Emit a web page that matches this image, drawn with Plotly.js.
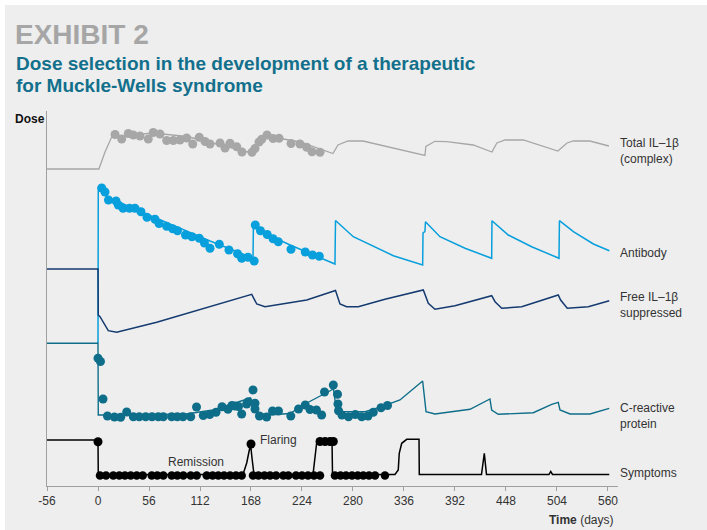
<!DOCTYPE html>
<html><head><meta charset="utf-8">
<script src="https://cdn.plot.ly/plotly-3.0.1.min.js"></script>
<style>
html,body{margin:0;padding:0;background:#fff;}
#chart{position:absolute;left:5px;top:5px;width:702px;height:525px;}
</style></head><body><div id="chart"></div>
<script>
// ---- data (arbitrary dose-level units) ----
const xTicks = [-56, 0, 56, 112, 168, 224, 280, 336, 392, 448, 504, 560];

const totalLineDay = [-56, 1, 7.7, 15, 60, 98, 164, 169, 178, 185, 222, 258, 263.5, 274.5, 291, 359, 360, 370, 383, 412, 432.6, 438, 447, 467, 505, 515, 522, 540, 561];
const totalLineVal = [317, 317, 334, 349, 353, 349.5, 334, 338, 347, 350, 344, 332.5, 341, 345, 345, 330.5, 339.5, 344.7, 344.3, 341, 334, 343, 346, 346, 335, 343, 345, 345, 340];
const totalPtDay = [18.7, 26, 33.3, 38.8, 46.1, 55.2, 60.7, 68.1, 75.4, 82.7, 90, 97.4, 104, 111.2, 117.5, 123, 134, 139.5, 145, 152.3, 158.1, 169.1, 172.4, 176.8, 179.8, 185.6, 192.2, 198.8, 212, 221.8, 229.2, 235, 243.8];
const totalPtVal = [351.5, 347, 352.5, 351, 350, 347, 353.5, 352, 345.5, 345.5, 346, 348, 342, 348.7, 344.5, 342, 343, 338, 342.7, 339.3, 334, 333.7, 337.5, 344, 346.7, 351, 347.5, 347.7, 342.5, 342, 338.7, 334.3, 333.7];

const abLineDay = [0, 0.3, 6.6, 35, 79, 123, 170.2, 170.7, 180, 211, 260.2, 260.8, 280.3, 324.3, 356.5, 356.9, 359, 359.6, 375.5, 403, 432.3, 432.6, 450.5, 476.2, 506.2, 506.7, 522, 544, 561.5];
const abLineVal = [143, 299, 291, 279, 262, 245, 228, 263, 254, 241, 222, 265.5, 249.3, 230.3, 221, 253, 254.3, 264.3, 249.3, 237.7, 227.7, 265.3, 251, 239.3, 227.7, 265.3, 254.3, 242, 235.3];
const abPtDay = [4.1, 7.7, 11.5, 19.8, 22.3, 27.5, 34.6, 40.6, 47.2, 53.8, 62.6, 67, 75.4, 82, 87.3, 96.1, 103.2, 111.2, 116.9, 123, 133.2, 143.8, 153.2, 157.8, 164.7, 171.5, 172.7, 178.4, 185.8, 192.2, 198, 211.9, 227.6, 235.5, 243];
const abPtVal = [298, 294, 286, 285, 281, 277.7, 277.7, 277.7, 274.3, 268.7, 266.7, 262.5, 259.7, 257.3, 255.2, 251, 249.3, 247.7, 243, 237.7, 241.8, 236, 232.2, 227.7, 228.7, 225, 261, 255.2, 251.5, 247.2, 244.3, 236.8, 234, 231, 229.7];

const freeLineDay = [-56, 0, 0.3, 2.2, 11.3, 20.5, 64.5, 168.8, 174.3, 183.4, 229.2, 260.8, 265.7, 273, 285.8, 315.1, 357.2, 359, 362.7, 370, 392, 432.3, 436, 443.3, 465.3, 505.4, 508, 515.3, 538.4, 561.4];
const freeLineVal = [217, 217, 171, 169.3, 155.3, 153.7, 163.7, 191.7, 182, 179.3, 186, 195.5, 182, 179.3, 179.3, 186.7, 196, 191, 182.7, 176.7, 180.3, 190.3, 184.3, 177.7, 179.3, 191, 186, 177.7, 179.3, 185.3];

const crpLineDay = [-56, 0, 0.3, 46, 96.6, 126.3, 167.5, 170.2, 186.7, 210.8, 227.3, 258.6, 261.9, 293.2, 311.5, 331.6, 356.5, 360.2, 370, 408.5, 430.4, 432.3, 439.5, 478, 498.2, 505.4, 507.3, 518.3, 540.2, 561.4];
const crpLineVal = [142.7, 142.7, 71, 71, 72, 76, 88, 74.5, 71, 72.5, 82, 97, 74.5, 74.3, 79.3, 86, 105, 74.3, 72, 76.7, 87, 76, 71.7, 73.3, 81.7, 83.7, 76, 72, 72, 77.7];
const crpPtDay = [0, 2.7, 5.5, 10.4, 18.1, 24.9, 31.5, 38.8, 45.3, 52.4, 59.3, 66.2, 71.7, 80.9, 87.1, 93.3, 101.8, 108.2, 115.6, 122.7, 129.6, 136.2, 142.7, 147.1, 150.4, 154.3, 157.8, 163.3, 165, 170.2, 172.4, 172.4, 177.3, 185.2, 191.6, 198.2, 211.7, 220.2, 227.6, 232.8, 239.9, 245.6, 248.7, 258.4, 263, 263.5, 264.1, 267.9, 275.1, 282.5, 289.6, 296.5, 302.3, 310.8, 317.9];
const crpPtVal = [127.7, 124.5, 87, 70, 69, 68.7, 74, 69.3, 69.3, 69.3, 69.3, 69.3, 69.3, 69.3, 69.3, 69.3, 69.3, 79, 70.5, 71.5, 73.7, 79.3, 76.7, 80.5, 80, 79.5, 72, 82, 84.3, 96, 82.7, 77, 70, 69, 75, 75, 70, 77, 81, 76.5, 76, 71, 94, 101, 91.8, 82, 75.2, 71, 69.3, 71.5, 69.3, 70, 73.7, 78.2, 80.5];

const sympLineDay = [-56, 0, 0.3, 159.2, 163.3, 167.5, 169.1, 171.3, 236.1, 240.1, 243.8, 257, 257.5, 326.1, 329.7, 330.8, 333.5, 339, 352.5, 352.8, 421.1, 424.2, 426.6, 495.2, 497.1, 499.1, 561.4];
const sympLineVal = [46, 46, 11.5, 11.5, 23, 42, 28, 11.5, 11.5, 43, 44.5, 44.5, 11.5, 11.5, 16, 32.7, 42.7, 46.7, 46.7, 11.5, 11.5, 32.7, 11.5, 11.5, 14.5, 11.5, 11.5];
const flarePtDay = [0, 168, 243.8, 249.3, 254.8, 258.4];
const flarePtVal = [44.3, 42, 44.5, 44.5, 44.5, 44.5];
const remitPtDay = [2.2, 8.8, 16.8, 23.4, 29.6, 35.9, 42.5, 49.1, 59, 65.1, 71.7, 80.9, 87.1, 93.7, 101.8, 108.4, 119.4, 125.9, 132.1, 138.4, 145, 151.5, 157.8, 170.2, 176.2, 182.8, 188.9, 195.5, 203.5, 209, 217.4, 224, 230.6, 237.2, 243.8, 260.2, 266.3, 272.3, 278.9, 285.2, 291.3, 297.6, 304.2, 315.1];
const remitPtVal = remitPtDay.map(() => 10.5);

// ---- styling ----
const FONT = 'Liberation Sans, Arial, sans-serif';
const C_GRAY = '#a7a7a7', C_BLUE = '#079fdc', C_NAVY = '#143a70', C_TEAL = '#0e6e8a', C_BLACK = '#000000';
const L = 42, T = 106, W = 571, H = 375;
const px = x => (x - 5 - L) / W;          // page px -> paper x
const py = y => (T + H + 5 - y) / H;      // page px -> paper y

function lineTrace(x, y, color, width) {
  return {x, y, type: 'scatter', mode: 'lines', line: {color, width}, hoverinfo: 'skip'};
}
function ptTrace(x, y, color, size) {
  return {x, y, type: 'scatter', mode: 'markers', marker: {color, size, line: {width: 0}}, hoverinfo: 'skip'};
}

const data = [
  lineTrace(totalLineDay, totalLineVal, C_GRAY, 1.3),
  ptTrace(totalPtDay, totalPtVal, C_GRAY, 9),
  lineTrace(abLineDay, abLineVal, C_BLUE, 1.5),
  ptTrace(abPtDay, abPtVal, C_BLUE, 9),
  lineTrace(freeLineDay, freeLineVal, C_NAVY, 1.5),
  lineTrace(crpLineDay, crpLineVal, C_TEAL, 1.4),
  ptTrace(crpPtDay, crpPtVal, C_TEAL, 9),
  lineTrace(sympLineDay, sympLineVal, C_BLACK, 1.5),
  ptTrace(flarePtDay, flarePtVal, C_BLACK, 9),
  ptTrace(remitPtDay, remitPtVal, C_BLACK, 8.5)
];

function ann(text, x, y, opts) {
  return Object.assign({text, xref: 'paper', yref: 'paper', x: px(x), y: py(y), xanchor: 'left', yanchor: 'middle',
    align: 'left', showarrow: false, borderpad: 0, font: {family: FONT, size: 12, color: '#333333'}}, opts || {});
}

const annotations = [
  ann('<b>Dose selection in the development of a therapeutic</b>', 15, 63.5, {font: {family: FONT, size: 19, color: '#12708c'}}),
  ann('<b>for Muckle-Wells syndrome</b>', 15, 85.8, {font: {family: FONT, size: 19, color: '#12708c'}}),
  ann('<b>Dose</b>', 14, 118.5, {font: {family: FONT, size: 12, color: '#111111'}}),
  ann('Total IL–1β<br>(complex)', 619, 151.4),
  ann('Antibody', 619, 252.5),
  ann('Free IL–1β<br>suppressed', 619, 304.5),
  ann('C-reactive<br>protein', 619, 416),
  ann('Symptoms', 619, 472.5),
  ann('Remission', 166.5, 461.8),
  ann('Flaring', 259.3, 439.8),
  ann('<b>Time</b> (days)', 614, 520, {xanchor: 'right'})
];

const layout = {
  width: 702, height: 525,
  paper_bgcolor: '#eeeeee', plot_bgcolor: 'rgba(0,0,0,0)',
  margin: {l: L, r: 702 - L - W, t: T, b: 525 - T - H, pad: 0},
  showlegend: false,
  font: {family: FONT, size: 12, color: '#333333'},
  title: {text: '<b>EXHIBIT 2</b>', font: {family: FONT, size: 28, color: '#a6a6a6'},
    x: 10 / 702, xanchor: 'left', xref: 'container', y: 1 - 29.2 / 525, yref: 'container', yanchor: 'middle', pad: {t: 0, b: 0, l: 0, r: 0}},
  xaxis: {range: [-56, 571], tickvals: xTicks, ticktext: xTicks.map(String), showgrid: false, zeroline: false,
    showline: true, linecolor: '#a0a0a0', linewidth: 1, ticks: 'outside', ticklen: 4, tickcolor: '#a0a0a0',
    tickfont: {family: FONT, size: 12, color: '#333333'}, fixedrange: true},
  yaxis: {range: [0, 375], showgrid: false, zeroline: false, showticklabels: false, ticks: '',
    showline: true, linecolor: '#a0a0a0', linewidth: 1, fixedrange: true},
  annotations
};

Plotly.newPlot('chart', data, layout, {staticPlot: true, displayModeBar: false});
</script>
</body></html>
